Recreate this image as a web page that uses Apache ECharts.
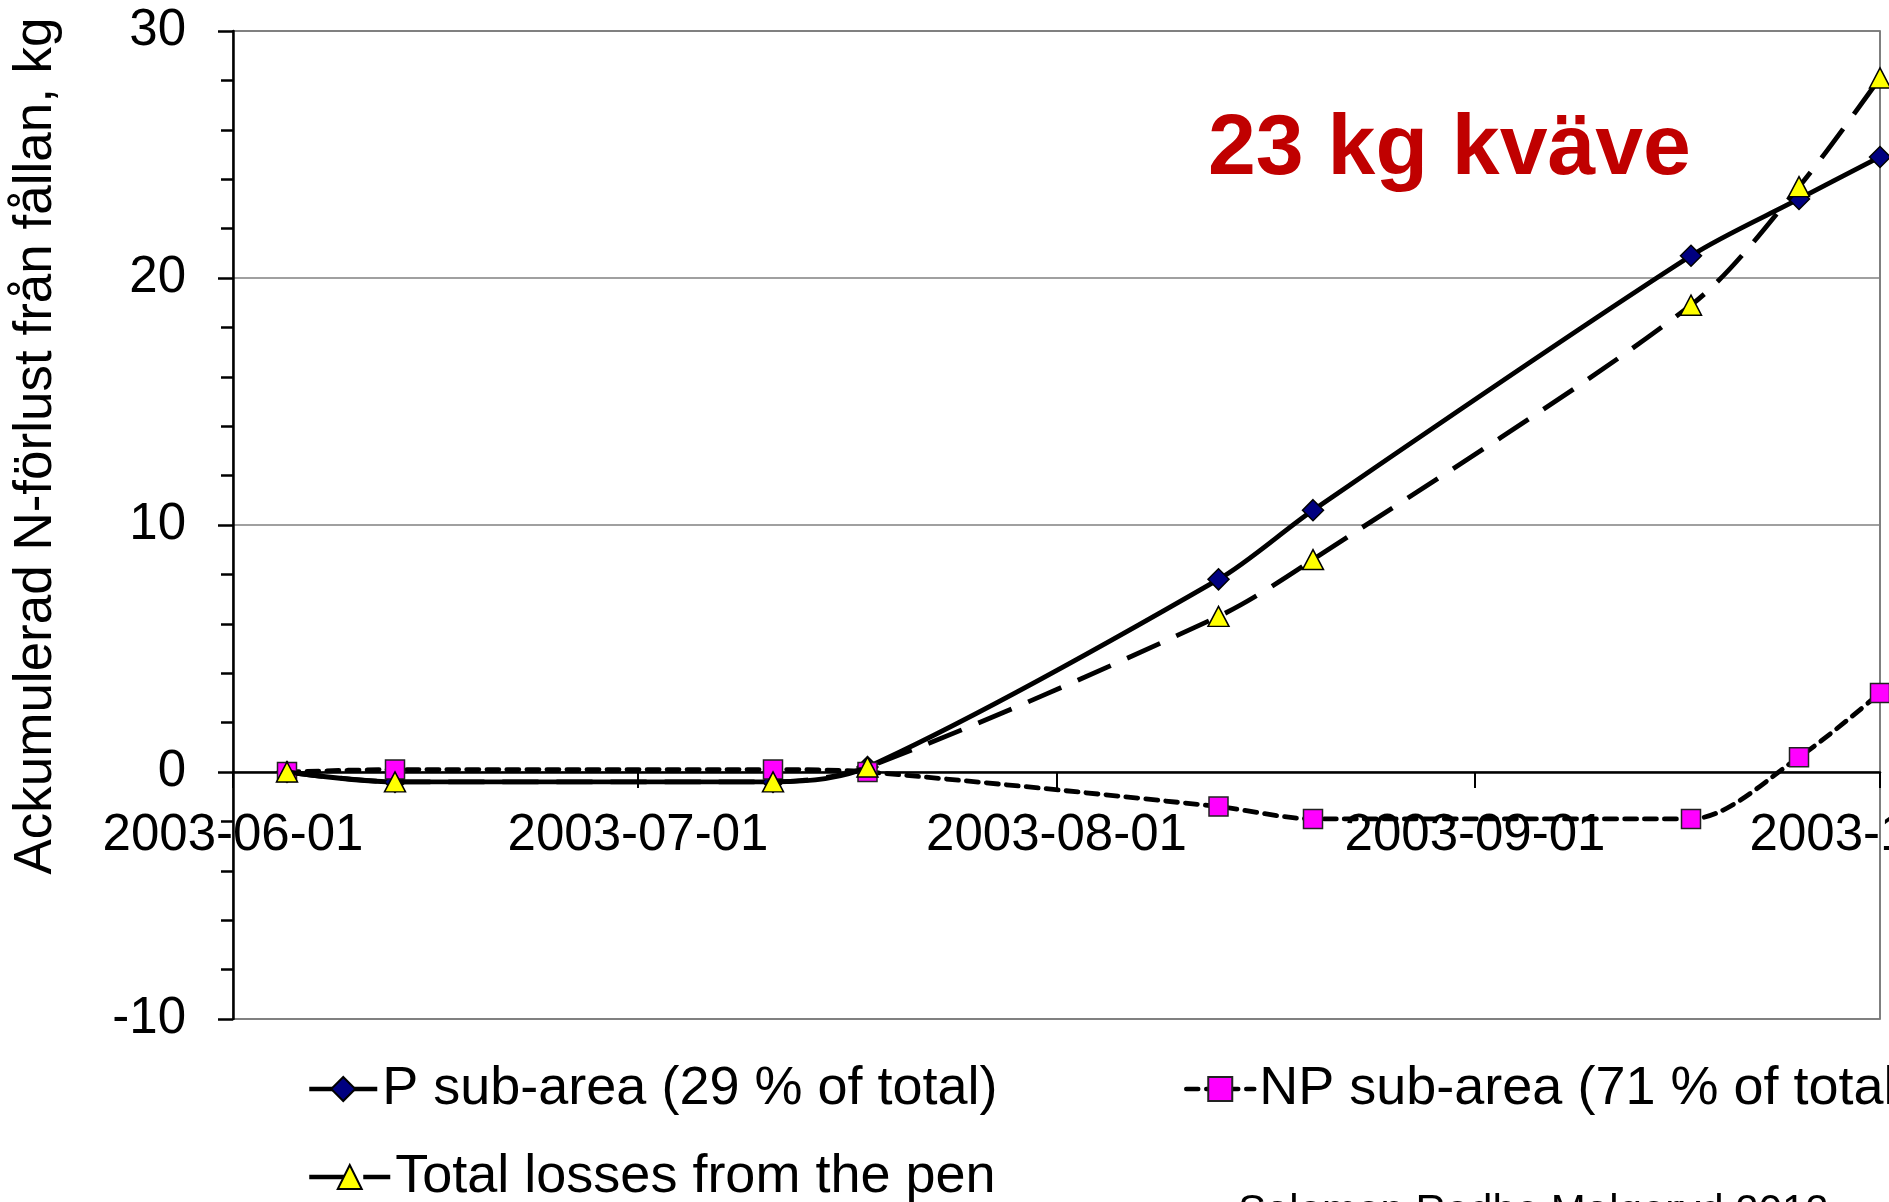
<!DOCTYPE html>
<html>
<head>
<meta charset="utf-8">
<script src="https://cdn.jsdelivr.net/npm/echarts@6/dist/echarts.min.js"></script>
<style>
html,body{margin:0;padding:0;background:#ffffff;}
#chart{width:1889px;height:1202px;}
</style>
</head>
<body>
<div id="chart"></div>
<script>
// ---- data ----
const dates = ['2003-06-05','2003-06-13','2003-07-11','2003-07-18','2003-08-13','2003-08-20','2003-09-17','2003-09-25','2003-10-01'];
const pSub  = [0, -0.4, -0.4, 0.2, 7.8, 10.6, 20.9, 23.2, 24.9];
const npSub = [0, 0.1, 0.1, 0.0, -1.4, -1.9, -1.9, 0.6, 3.2];
const total = [0, -0.4, -0.4, 0.2, 6.3, 8.6, 18.9, 23.7, 28.1];
const tickDates = ['2003-06-01','2003-07-01','2003-08-01','2003-09-01','2003-10-01'];
const yTicks = [-10, 0, 10, 20, 30];
const seriesNames = ['P sub-area (29 % of total)', 'NP sub-area (71 % of total)', 'Total losses from the pen'];
const yTitle = 'Ackumulerad N-förlust från fållan, kg';
const annotation = '23 kg kväve';
const sourceText = 'Salomon Rodhe Malgeryd 2012';

const FONT = "'Liberation Sans', Arial, sans-serif";
function ts(s){ const [y,m,d] = s.split('-').map(Number); return new Date(y, m-1, d).getTime(); }
function fmt(v){ const d = new Date(v); const p = n => String(n).padStart(2,'0'); return d.getFullYear()+'-'+p(d.getMonth()+1)+'-'+p(d.getDate()); }
const tickTs = tickDates.map(ts);
const pair = arr => dates.map((d,i) => [ts(d), arr[i]]);

const W = 1889, H = 1202;
const G = {left:233, right:9, top:31, bottom:183};
const gridH = H - G.top - G.bottom;
const yMin = yTicks[0], yMax = yTicks[yTicks.length-1];
// move the date axis up to the y = 0 line
const xAxisOffset = -gridH * (0 - yMin) / (yMax - yMin);

const chart = echarts.init(document.getElementById('chart'), null, {renderer:'canvas'});
const legendBase = {
  orient:'horizontal', padding:0, itemGap:0,
  itemHeight:30,
  textStyle:{fontSize:54, color:'#000', fontFamily:FONT},
  lineStyle:{width:4.5},
  selectedMode:false
};
chart.setOption({
  backgroundColor:'#ffffff',
  animation:false,
  textStyle:{fontFamily:FONT},
  grid:Object.assign({show:true, borderColor:'#555555', borderWidth:1.5, backgroundColor:'transparent', outerBoundsMode:'none', containLabel:false}, G),
  legend:[
    Object.assign({}, legendBase, {data:[seriesNames[0]], left:307, top:1062, itemWidth:68}),
    Object.assign({}, legendBase, {data:[seriesNames[1]], left:1184, top:1062, itemWidth:68}),
    Object.assign({}, legendBase, {data:[seriesNames[2]], left:307, top:1150, itemWidth:81})
  ],
  xAxis:{
    type:'value',
    position:'bottom',
    offset:xAxisOffset,
    min:tickTs[0], max:tickTs[tickTs.length-1],
    axisLine:{onZero:false, lineStyle:{color:'#000', width:2.5}},
    axisTick:{show:true, length:16, lineStyle:{color:'#000', width:2}, customValues:tickTs},
    axisLabel:{show:true, customValues:tickTs, formatter:v => fmt(v), fontSize:51, color:'#000', fontFamily:FONT, margin:38, showMinLabel:true, showMaxLabel:true, hideOverlap:false},
    splitLine:{show:false},
    minorTick:{show:false}
  },
  yAxis:{
    type:'value',
    min:yMin, max:yMax, interval:10,
    axisLine:{show:true, onZero:false, lineStyle:{color:'#000', width:2.5}},
    axisTick:{show:true, length:15, lineStyle:{color:'#000', width:2.5}},
    minorTick:{show:true, splitNumber:5, length:12, lineStyle:{color:'#000', width:2.5}},
    axisLabel:{fontSize:51, color:'#000', fontFamily:FONT, margin:47},
    splitLine:{show:true, lineStyle:{color:'#808080', width:1.5}}
  },
  series:[
    {
      name:seriesNames[0], type:'line', data:pair(pSub), smooth:0.3,
      symbol:'diamond', symbolSize:[21,21],
      lineStyle:{color:'#000', width:4.8, type:'solid'},
      itemStyle:{color:'#000080', borderColor:'#000', borderWidth:1.5},
      z:3
    },
    {
      name:seriesNames[1], type:'line', data:pair(npSub), smooth:0.3,
      symbol:'rect', symbolSize:19,
      lineStyle:{color:'#000', width:4.8, type:[12,8], cap:'round'},
      itemStyle:{color:'#FF00FF', borderColor:'#222', borderWidth:1.5},
      z:4
    },
    {
      name:seriesNames[2], type:'line', data:pair(total), smooth:0.3,
      symbol:'triangle', symbolSize:[21,20],
      lineStyle:{color:'#000', width:4.8, type:[36,18]},
      itemStyle:{color:'#FFFF00', borderColor:'#000', borderWidth:1.5},
      z:5
    }
  ],
  graphic:[
    {type:'text', x:36.6, y:446, rotation:Math.PI/2,
     style:{text:yTitle, fontSize:53, fontFamily:FONT, fill:'#000', align:'center', verticalAlign:'middle'}},
    {type:'text', x:1208, y:150,
     style:{text:annotation, fontSize:86, fontWeight:'bold', fontFamily:FONT, fill:'#C00000', align:'left', verticalAlign:'middle'}},
    {type:'text', x:1238, y:1212,
     style:{text:sourceText, fontSize:42, fontFamily:FONT, fill:'#000', align:'left', verticalAlign:'middle'}}
  ]
});
</script>
</body>
</html>
